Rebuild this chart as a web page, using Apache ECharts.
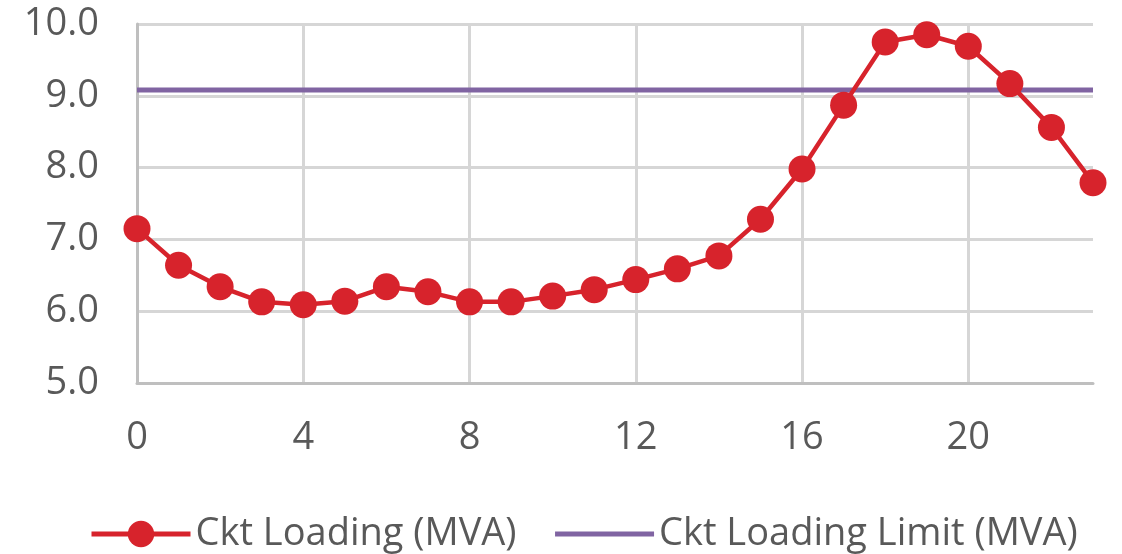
<!DOCTYPE html>
<html>
<head>
<meta charset="utf-8">
<script src="https://cdn.jsdelivr.net/npm/echarts@6/dist/echarts.min.js"></script>
<style>
  html, body { margin: 0; padding: 0; background: #fff; }
  #chart { width: 1122px; height: 554px; }
</style>
</head>
<body>
<div id="chart"></div>
<script>
const hours = ['0', '1', '2', '3', '4', '5', '6', '7', '8', '9', '10', '11',
  '12', '13', '14', '15', '16', '17', '18', '19', '20', '21', '22', '23']
const loading = [7.15, 6.64, 6.34, 6.13, 6.09, 6.14, 6.34, 6.27, 6.13, 6.13, 6.21, 6.30,
  6.44, 6.59, 6.77, 7.28, 7.98, 8.87, 9.75, 9.85, 9.69, 9.17, 8.56, 7.79]
const loadingLimit = [9.08, 9.08, 9.08, 9.08, 9.08, 9.08, 9.08, 9.08, 9.08, 9.08, 9.08, 9.08,
  9.08, 9.08, 9.08, 9.08, 9.08, 9.08, 9.08, 9.08, 9.08, 9.08, 9.08, 9.08]

const textColor = '#595959'
const font = '"Open Sans", "Noto Sans", sans-serif'
const red = '#d7232c'
const purple = '#8064a2'

const chart = echarts.init(document.getElementById('chart'))
chart.setOption({
  animation: false,
  textStyle: { fontFamily: font },
  grid: { left: 137, right: 29, top: 24, bottom: 171 },
  legend: {
    left: 84,
    top: 510,
    itemWidth: 99,
    itemHeight: 33,
    itemGap: 36,
    lineStyle: { width: 5 },
    textStyle: { color: textColor, fontSize: 38, fontFamily: font },
    data: [
      { name: 'Ckt Loading (MVA)' },
      { name: 'Ckt Loading Limit (MVA)', itemStyle: { opacity: 0 } },
    ],
  },
  xAxis: {
    type: 'category',
    data: hours,
    boundaryGap: false,
    axisLine: { lineStyle: { color: '#bfbfbf', width: 3 } },
    axisTick: { show: false },
    axisLabel: { interval: 3, color: textColor, fontSize: 38, margin: 36 },
    splitLine: { show: true, interval: 3, lineStyle: { color: '#d6d6d6', width: 3 } },
  },
  yAxis: {
    type: 'value',
    min: 5,
    max: 10,
    interval: 1,
    axisLine: { show: true, lineStyle: { color: '#bfbfbf', width: 3 } },
    axisTick: { show: false },
    axisLabel: {
      color: textColor,
      fontSize: 38,
      margin: 38,
      formatter: (v) => v.toFixed(1),
    },
    splitLine: { lineStyle: { color: '#d6d6d6', width: 3 } },
  },
  series: [
    {
      name: 'Ckt Loading (MVA)',
      type: 'line',
      data: loading,
      symbol: 'circle',
      symbolSize: 27,
      showAllSymbol: true,
      lineStyle: { color: red, width: 4.5 },
      itemStyle: { color: red },
      z: 3,
    },
    {
      name: 'Ckt Loading Limit (MVA)',
      type: 'line',
      data: loadingLimit,
      symbol: 'none',
      lineStyle: { color: purple, width: 5 },
      itemStyle: { color: purple },
      z: 2,
    },
  ],
})
</script>
</body>
</html>
